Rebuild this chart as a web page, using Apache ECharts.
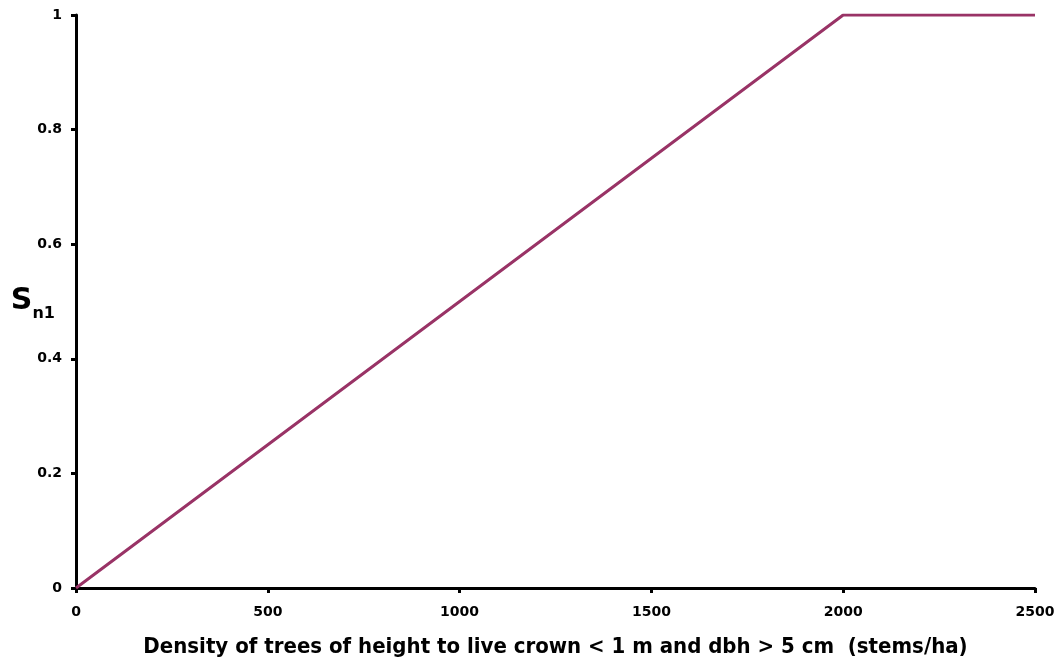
<!DOCTYPE html>
<html><head><meta charset="utf-8">
<script src="https://cdn.jsdelivr.net/npm/echarts@6/dist/echarts.min.js"></script>
<style>html,body{margin:0;padding:0;background:#fff}#c{width:1060px;height:664px}</style>
</head><body><div id="c"></div>
<script>
const densities = [0, 2000, 2500];
const sn1Values = [0, 1, 1];
const xTicks = [0, 500, 1000, 1500, 2000, 2500];
const yTicks = [0, 0.2, 0.4, 0.6, 0.8, 1];
const xTitle = 'Density of trees of height to live crown < 1 m and dbh > 5 cm  (stems/ha)';

const chart = echarts.init(document.getElementById('c'), null, {renderer: 'canvas'});
const font = '"DejaVu Sans", Verdana, sans-serif';
chart.setOption({
  animation: false,
  grid: {left: 76, top: 15, right: 25, bottom: 76, containLabel: false, outerBoundsMode: 'none'},
  xAxis: {
    type: 'value', min: xTicks[0], max: xTicks[xTicks.length-1], interval: 500,
    axisLine: {lineStyle: {color: '#000', width: 3}},
    axisTick: {show: true, length: 5, lineStyle: {color: '#000', width: 3}},
    splitLine: {show: false},
    axisLabel: {color: '#000', fontFamily: font, fontWeight: 'bold', fontSize: 14, margin: 17,
      formatter: v => String(v)},
    name: xTitle, nameLocation: 'middle', nameGap: 48, nameMoveOverlap: false,
    nameTextStyle: {color: '#000', fontFamily: '"DejaVu Sans Condensed", "DejaVu Sans", sans-serif', fontWeight: 'bold', fontSize: 22}
  },
  yAxis: {
    type: 'value', min: yTicks[0], max: yTicks[yTicks.length-1], interval: 0.2,
    axisLine: {lineStyle: {color: '#000', width: 3}},
    axisTick: {show: true, length: 5, lineStyle: {color: '#000', width: 3}},
    splitLine: {show: false},
    axisLabel: {color: '#000', fontFamily: font, fontWeight: 'bold', fontSize: 14, margin: 14,
      formatter: v => String(v)},
    name: '{s|S}{sub|n1}', nameLocation: 'middle', nameGap: 21, nameRotate: 0, nameMoveOverlap: false,
    nameTextStyle: {
      rich: {
        s: {fontFamily: font, fontWeight: 'bold', fontSize: 30, color: '#000', verticalAlign: 'bottom'},
        sub: {fontFamily: font, fontWeight: 'bold', fontSize: 16, color: '#000', verticalAlign: 'bottom', padding: [0,0,-5,0]}
      }
    }
  },
  series: [{
    type: 'line', data: densities.map((d, i) => [d, sn1Values[i]]),
    showSymbol: false, symbol: 'none',
    lineStyle: {color: '#993366', width: 3}
  }]
});
</script></body></html>
